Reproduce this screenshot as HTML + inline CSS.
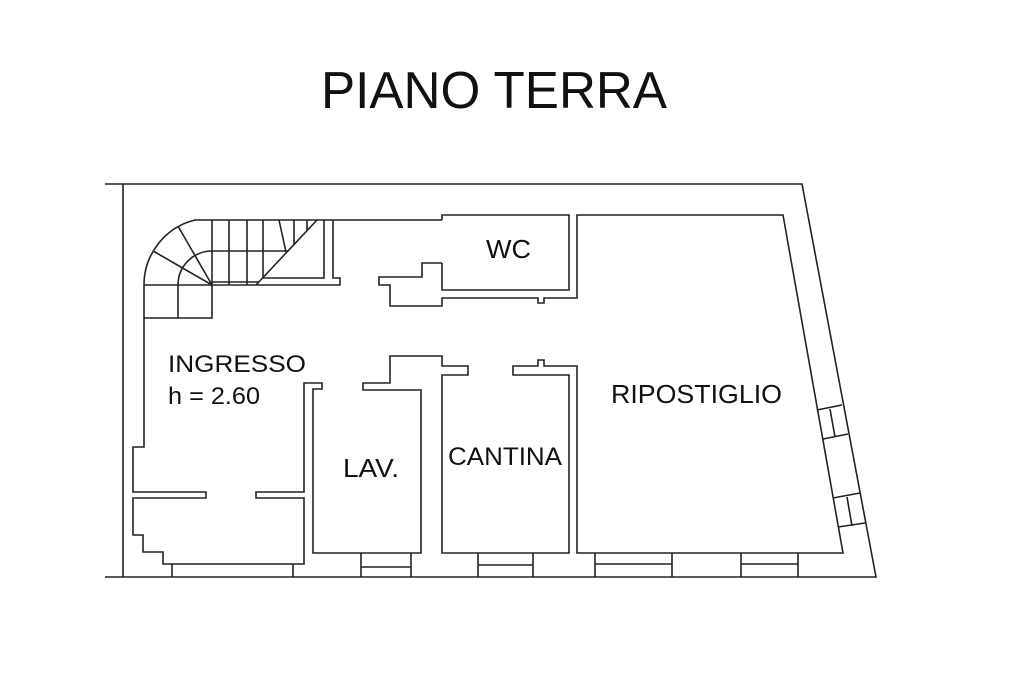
<!DOCTYPE html>
<html>
<head>
<meta charset="utf-8">
<style>
  html, body { margin: 0; padding: 0; background: #ffffff; }
  body { width: 1024px; height: 683px; overflow: hidden; }
  svg { display: block; }
  text { font-family: "Liberation Sans", Arial, sans-serif; fill: #111; }
</style>
</head>
<body>
<svg width="1024" height="683" viewBox="0 0 1024 683" xmlns="http://www.w3.org/2000/svg">
  <rect width="1024" height="683" fill="#ffffff"/>

  <!-- Title -->
  <text x="321" y="108" font-size="52" textLength="346" lengthAdjust="spacingAndGlyphs">PIANO TERRA</text>

  <g fill="none" stroke="#222" stroke-width="1.6" stroke-linejoin="miter" stroke-linecap="butt">
    <!-- Outer walls -->
    <path d="M105,184 H802 L876,577 H105"/>
    <path d="M123,184 V577"/>

    <!-- Stair outer arc and top wall -->
    <path d="M144,285 A67,67 0 0 1 195,220 H442"/>
    <!-- Inner arc -->
    <path d="M178,318 V285 A34,34 0 0 1 212,251"/>
    <!-- Radial lines -->
    <path d="M212,285 L154,251.5"/>
    <path d="M212,285 L178.5,227"/>
    <path d="M144,285 H212"/>
    <!-- Lower box of stair -->
    <path d="M144,318 H212 V220"/>
    <!-- Straight flight -->
    <path d="M212,251 H288"/>
    <path d="M229,220 V285"/>
    <path d="M247,220 V285"/>
    <path d="M263,220 V278"/>
    <path d="M279,220 L286,252"/>
    <path d="M294,220 V245"/>
    <path d="M307,220 V231"/>
    <path d="M317,220 L256,285"/>
    <path d="M212,282 H259"/>
    <path d="M262,278 H324 V220"/>
    <path d="M333,220 V278 H340 V285 H212"/>

    <!-- WC box -->
    <path d="M442,220 V215 H569 V290 H442 V263"/>

    <!-- Main interior wall path -->
    <path d="M442,263 H422 V277 H379 V285 H390 V306 H442 V298 H538 V303 H544 V298 H577 V215 H783 L843,553 H577 V366 H544 V360 H538 V366 H513 V375 H569 V553 H442 V375 H468 V366 H442 V356 H390 V383 H363 V390 H421 V553 H313 V389 H322 V383 H304 V492 H256 V498 H304 V564 H163 V552 H143 V535 H133 V498 H206 V492 H133 V447 H144 V285"/>

    <!-- Bottom windows -->
    <path d="M172,564 V577 M293,564 V577"/>
    <path d="M361,553 V577 M411,553 V577 M361,567 H411"/>
    <path d="M478,553 V577 M533,553 V577 M478,565 H533"/>
    <path d="M595,553 V577 M672,553 V577 M595,564 H672"/>
    <path d="M741,553 V577 M798,553 V577 M741,564 H798"/>

    <!-- Right wall windows -->
    <path d="M817,410 L842,405 M823,439 L848,434 M830,409 L835,437"/>
    <path d="M833,498 L860,493 M838,527 L865,523 M847,497 L852,526"/>
  </g>

  <!-- Room labels -->
  <text x="168" y="372" font-size="24" textLength="138" lengthAdjust="spacingAndGlyphs">INGRESSO</text>
  <text x="168" y="404" font-size="24" textLength="92" lengthAdjust="spacingAndGlyphs">h = 2.60</text>
  <text x="486" y="258" font-size="26" textLength="45" lengthAdjust="spacingAndGlyphs">WC</text>
  <text x="343" y="477" font-size="26" textLength="56" lengthAdjust="spacingAndGlyphs">LAV.</text>
  <text x="448" y="465" font-size="25" textLength="114" lengthAdjust="spacingAndGlyphs">CANTINA</text>
  <text x="611" y="403" font-size="26" textLength="171" lengthAdjust="spacingAndGlyphs">RIPOSTIGLIO</text>
</svg>
</body>
</html>
